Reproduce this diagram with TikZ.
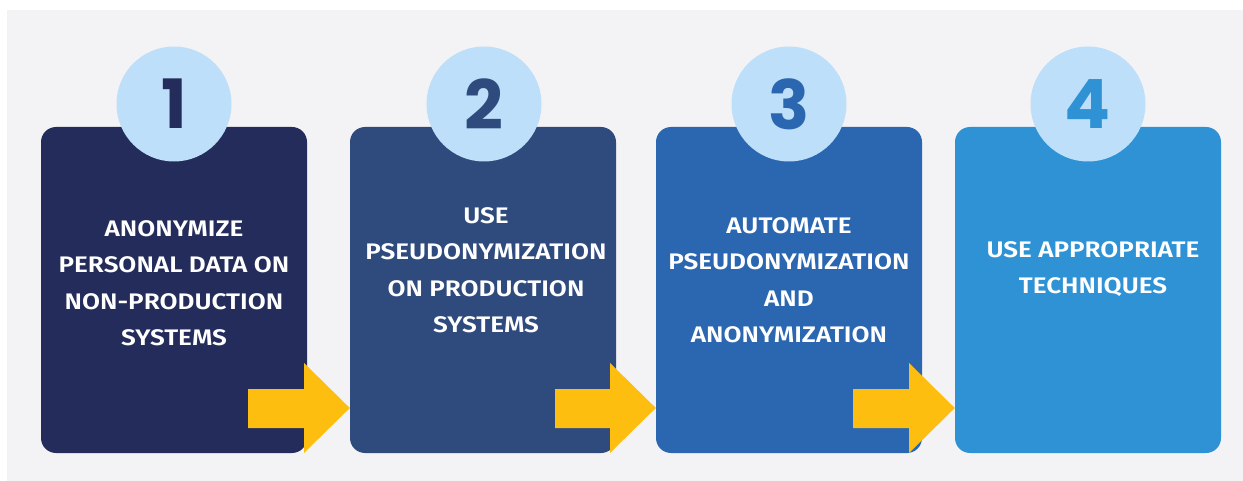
\documentclass[tikz,border=0pt]{standalone}
\usepackage{fontspec}
\setmainfont{Fira Sans}[BoldFont={Fira Sans SemiBold}, BoldFeatures={FakeStretch=1.16}]
\newfontfamily\numfont{Poppins}[BoldFont={Poppins Bold}]
\definecolor{bgpanel}{HTML}{F3F3F5}
\definecolor{cA}{HTML}{232C5A}
\definecolor{cB}{HTML}{2F4A7D}
\definecolor{cC}{HTML}{2B66B0}
\definecolor{cD}{HTML}{2E92D5}
\definecolor{circ}{HTML}{BDDFF9}
\definecolor{yarrow}{HTML}{FDBE10}
\begin{document}
\begin{tikzpicture}[x=1pt,y=-1pt,
  stepbox/.style={rectangle, rounded corners=15pt, minimum width=266pt, minimum height=326pt, inner sep=0pt, draw=none},
  boxtext/.style={text=white, align=center, inner sep=0pt, font=\fontsize{22.5}{36.5}\selectfont\bfseries},
  numcirc/.style={circle, fill=circ, minimum size=115pt, inner sep=0pt, font=\fontsize{68}{68}\selectfont\numfont\bfseries},
  blockarrow/.style={fill=yarrow}]
\useasboundingbox (0,0) rectangle (1243,481);
\fill[white] (0,0) rectangle (1243,481);
\fill[bgpanel] (7,10) rectangle (1243,481);
% boxes
\node[stepbox, fill=cA] (b1) at (174,290) {};
\node[stepbox, fill=cB] (b2) at (483,290) {};
\node[stepbox, fill=cC] (b3) at (789,290) {};
\node[stepbox, fill=cD] (b4) at (1088,290) {};
% texts
\node[boxtext] (t1) at (174,283) {ANONYMIZE\\PERSONAL DATA ON\\NON-PRODUCTION\\SYSTEMS};
\node[boxtext] (t2) at (486,270) {USE\\PSEUDONYMIZATION\\ON PRODUCTION\\SYSTEMS};
\node[boxtext] (t3) at (789,280) {AUTOMATE\\PSEUDONYMIZATION\\AND\\ANONYMIZATION};
\node[boxtext] (t4) at (1093,269) {USE APPROPRIATE\\TECHNIQUES};
% number circles
\node[numcirc, text=cA] (n1) at (174,104) {1};
\node[numcirc, text=cB] (n2) at (484,104) {2};
\node[numcirc, text=cC] (n3) at (789,104) {3};
\node[numcirc, text=cD] (n4) at (1088,104) {4};
% arrows
\fill[blockarrow] (248,389) -- (304,389) -- (304,363) -- (b2.west |- 0,408) -- (304,453) -- (304,428) -- (248,428) -- cycle;
\fill[blockarrow] (555,389) -- (610,389) -- (610,363) -- (b3.west |- 0,408) -- (610,453) -- (610,428) -- (555,428) -- cycle;
\fill[blockarrow] (853,389) -- (909,389) -- (909,363) -- (b4.west |- 0,408) -- (909,453) -- (909,428) -- (853,428) -- cycle;
\end{tikzpicture}
\end{document}
